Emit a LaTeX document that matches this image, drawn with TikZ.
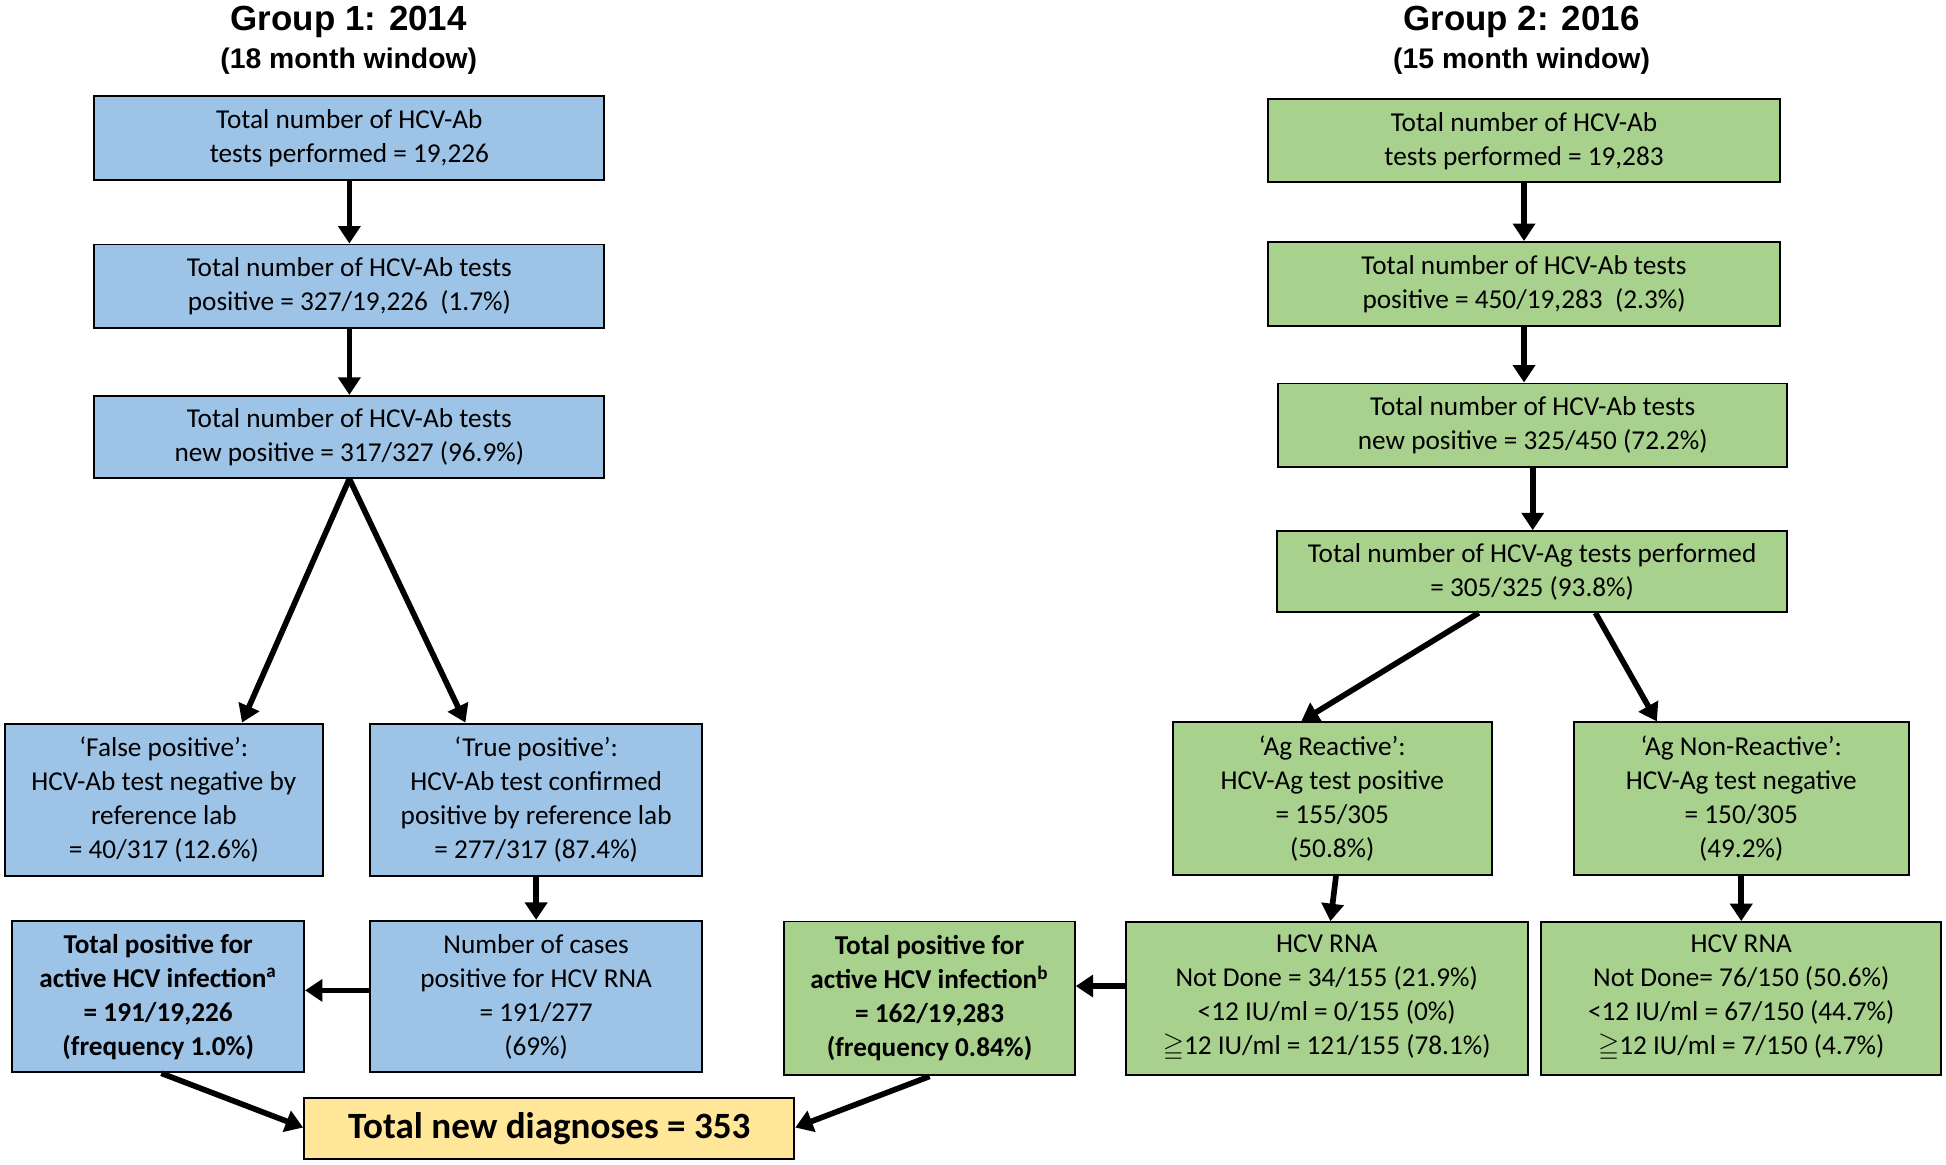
\documentclass[tikz,border=0pt]{standalone}
\usepackage{amsmath,amssymb}
\usepackage{fontspec}
\setmainfont{Carlito}
\newfontfamily\headfont{Liberation Sans}
\usetikzlibrary{arrows.meta}
\definecolor{boxblue}{RGB}{157,195,230}
\definecolor{boxgreen}{RGB}{169,209,142}
\definecolor{boxyellow}{RGB}{255,230,153}

\begin{document}
\begin{tikzpicture}[
    box/.style={draw=black, line width=0.9pt, align=center, inner sep=2pt,
        font=\fontsize{12.5}{15.6}\selectfont},
    blue box/.style={box, fill=boxblue},
    green box/.style={box, fill=boxgreen},
    title/.style={font=\headfont\bfseries\fontsize{16}{19}\selectfont},
    subtitle/.style={font=\headfont\bfseries\fontsize{13}{16}\selectfont},
    arr/.style={line width=2.6pt, -{Triangle[width=10pt,length=8pt]}}
]
    \useasboundingbox (0,0) rectangle (31.36,-18.76);

    % group 1
    \node[title] (t1) at (5.62,-0.36) {Group 1: 2014};
    \node[subtitle] (s1) at (5.62,-0.98) {(18 month window)};
    \node[blue box, minimum width=8.22cm, minimum height=1.36cm] (b1) at (5.63,-2.22)
        {Total number of HCV-Ab\\tests performed = 19,226};
    \node[blue box, minimum width=8.22cm, minimum height=1.34cm] (b2) at (5.63,-4.61)
        {Total number of HCV-Ab tests\\positive = 327/19,226\ \ (1.7\%)};
    \node[blue box, minimum width=8.22cm, minimum height=1.32cm] (b3) at (5.63,-7.04)
        {Total number of HCV-Ab tests\\new positive = 317/327 (96.9\%)};
    \node[blue box, minimum width=5.12cm, minimum height=2.46cm] (b4) at (2.64,-12.89)
        {`False positive':\\HCV-Ab test negative by\\reference lab\\= 40/317 (12.6\%)};
    \node[blue box, minimum width=5.36cm, minimum height=2.46cm] (b5) at (8.64,-12.89)
        {`True positive':\\HCV-Ab test confirmed\\positive by reference lab\\= 277/317 (87.4\%)};
    \node[blue box, minimum width=4.70cm, minimum height=2.44cm] (b6) at (2.55,-16.06)
        {\bfseries Total positive for\\\bfseries active HCV infection\textsuperscript{a}\\\bfseries = 191/19,226\\\bfseries (frequency 1.0\%)};
    \node[blue box, minimum width=5.36cm, minimum height=2.44cm] (b7) at (8.64,-16.06)
        {Number of cases\\positive for HCV RNA\\= 191/277\\(69\%)};

    % total
    \node[box, fill=boxyellow, minimum width=7.90cm, minimum height=0.98cm,
        font=\bfseries\fontsize{17}{20}\selectfont] (tot) at (8.85,-18.19)
        {Total new diagnoses = 353};

    % group 2
    \node[title] (t2) at (24.52,-0.36) {Group 2: 2016};
    \node[subtitle] (s2) at (24.52,-0.98) {(15 month window)};
    \node[green box, minimum width=8.24cm, minimum height=1.34cm] (g1) at (24.56,-2.27)
        {Total number of HCV-Ab\\tests performed = 19,283};
    \node[green box, minimum width=8.24cm, minimum height=1.36cm] (g2) at (24.56,-4.58)
        {Total number of HCV-Ab tests\\positive = 450/19,283\ \ (2.3\%)};
    \node[green box, minimum width=8.20cm, minimum height=1.34cm] (g3) at (24.70,-6.85)
        {Total number of HCV-Ab tests\\new positive = 325/450 (72.2\%)};
    \node[green box, minimum width=8.22cm, minimum height=1.30cm] (g4) at (24.69,-9.21)
        {Total number of HCV-Ag tests performed\\= 305/325 (93.8\%)};
    \node[green box, minimum width=5.14cm, minimum height=2.46cm] (g5) at (21.47,-12.87)
        {`Ag Reactive':\\HCV-Ag test positive\\= 155/305\\(50.8\%)};
    \node[green box, minimum width=5.40cm, minimum height=2.46cm] (g6) at (28.06,-12.87)
        {`Ag Non-Reactive':\\HCV-Ag test negative\\= 150/305\\(49.2\%)};
    \node[green box, minimum width=6.48cm, minimum height=2.46cm] (g7) at (21.38,-16.09)
        {HCV RNA\\Not Done = 34/155 (21.9\%)\\<12 IU/ml = 0/155 (0\%)\\$\geqq$12 IU/ml = 121/155 (78.1\%)};
    \node[green box, minimum width=6.44cm, minimum height=2.46cm] (g8) at (28.06,-16.09)
        {HCV RNA\\Not Done= 76/150 (50.6\%)\\<12 IU/ml = 67/150 (44.7\%)\\$\geqq$12 IU/ml = 7/150 (4.7\%)};
    \node[green box, minimum width=4.68cm, minimum height=2.48cm] (g9) at (14.98,-16.09)
        {\bfseries Total positive for\\\bfseries active HCV infection\textsuperscript{b}\\\bfseries = 162/19,283\\\bfseries (frequency 0.84\%)};

    % arrows group 1
    \draw[arr] (b1.south) -- (b2.north);
    \draw[arr] (b2.south) -- (b3.north);
    \draw[arr] (b3.south) -- ([xshift=1.26cm]b4.north);
    \draw[arr] (b3.south) -- ([xshift=-1.14cm]b5.north);
    \draw[arr] (b5.south) -- (b7.north);
    \draw[arr] ([yshift=0.1cm]b7.west) -- ([yshift=0.1cm]b6.east);
    \draw[arr] ([xshift=0.05cm]b6.south) -- ([yshift=0.02cm]tot.west);

    % arrows group 2
    \draw[arr] (g1.south) -- (g2.north);
    \draw[arr] (g2.south) -- ([xshift=-0.14cm]g3.north);
    \draw[arr] (g3.south) -- ([xshift=0.01cm]g4.north);
    \draw[arr] ([xshift=-0.86cm]g4.south) -- ([xshift=-0.5cm]g5.north);
    \draw[arr] ([xshift=1.02cm]g4.south) -- ([xshift=-1.36cm]g6.north);
    \draw[arr] ([xshift=0.06cm]g5.south) -- ([xshift=0.06cm]g7.north);
    \draw[arr] (g6.south) -- (g8.north);
    \draw[arr] ([yshift=0.2cm]g7.west) -- ([yshift=0.2cm]g9.east);
    \draw[arr] (g9.south) -- ([yshift=0.02cm]tot.east);
\end{tikzpicture}
\end{document}
